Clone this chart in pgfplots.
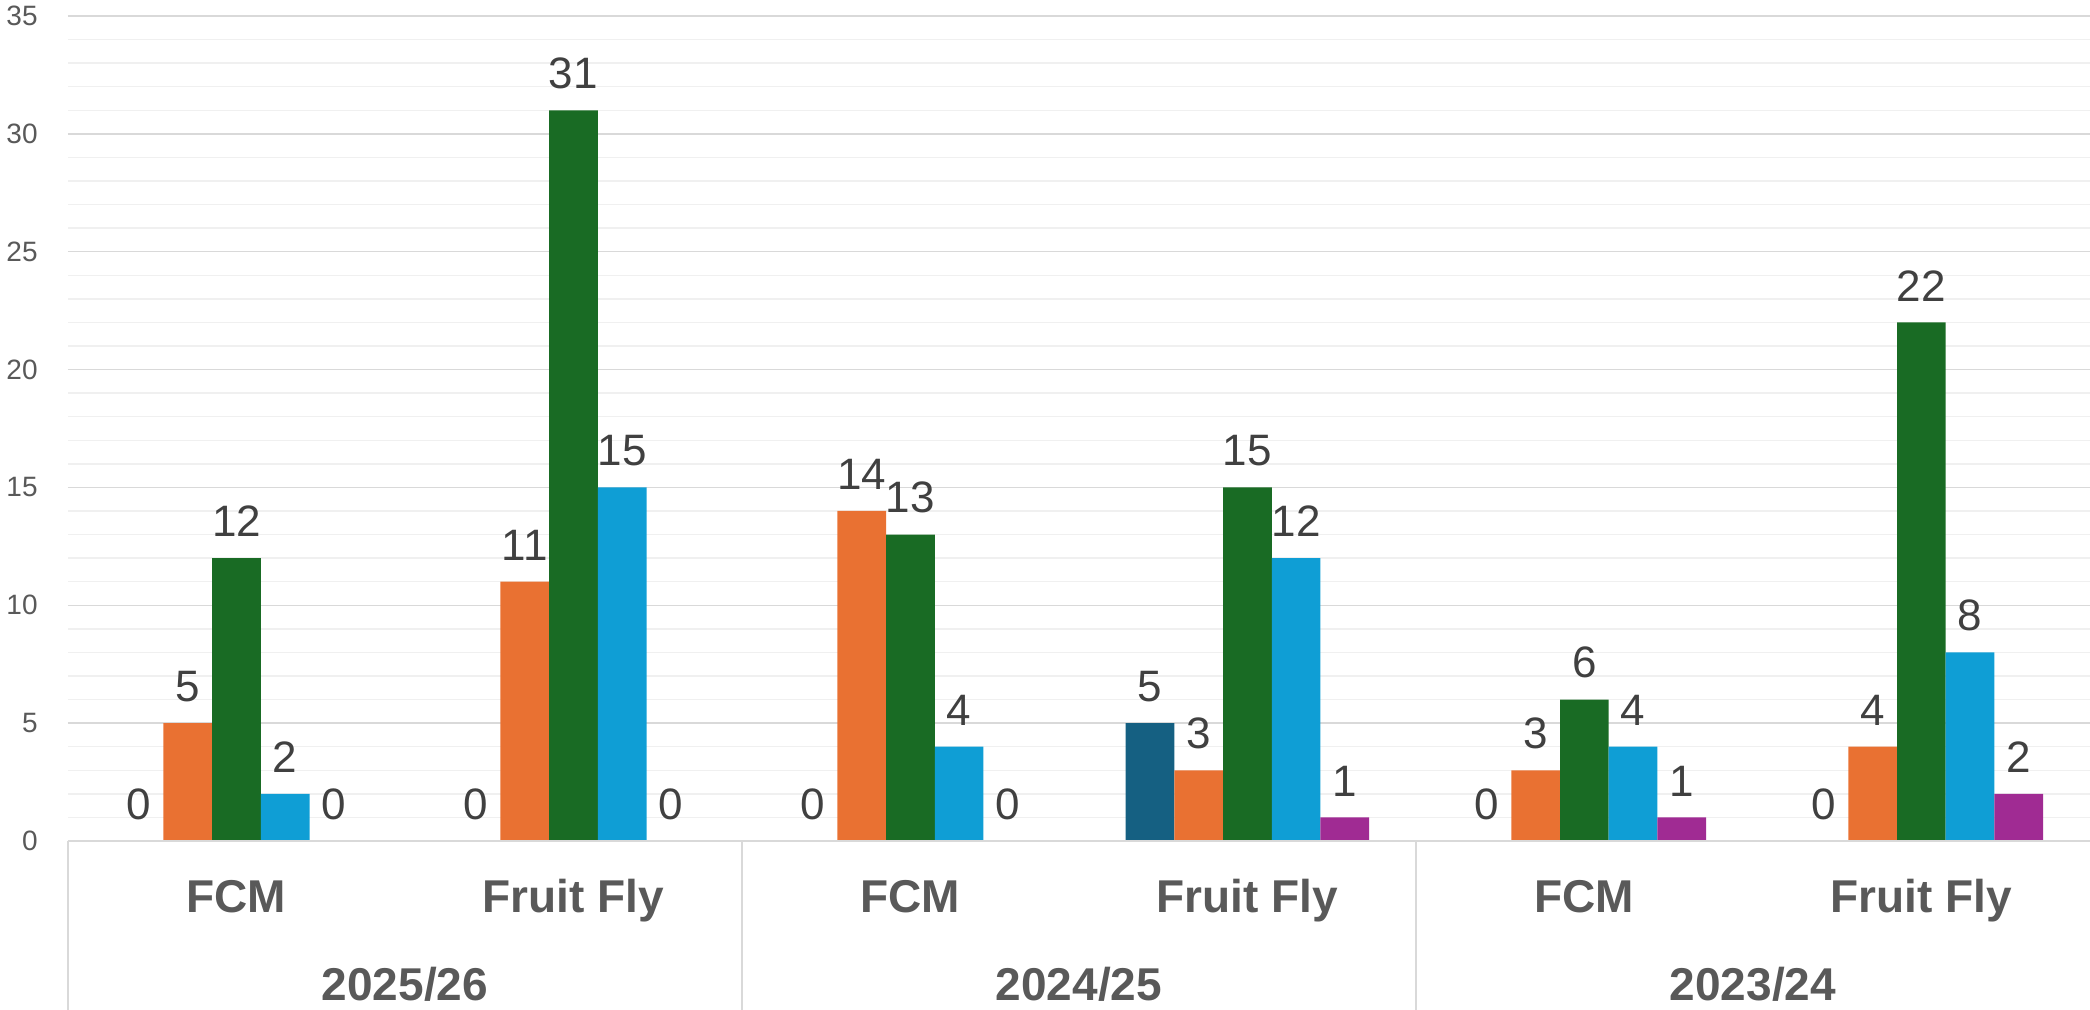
\documentclass[border=0pt]{standalone}
\usepackage{pgfplots}
\pgfplotsset{compat=1.18}
\usepackage{fontspec}
\setmainfont{Liberation Sans}
\definecolor{cDB}{HTML}{156082}
\definecolor{cOR}{HTML}{E97132}
\definecolor{cGR}{HTML}{196B24}
\definecolor{cLB}{HTML}{0F9ED5}
\definecolor{cPU}{HTML}{A02B93}
\definecolor{tickgray}{HTML}{595959}
\definecolor{labgray}{HTML}{595959}
\definecolor{datagray}{HTML}{404040}
\definecolor{majgrid}{HTML}{D9D9D9}
\definecolor{mingrid}{HTML}{F0F0F0}
\begin{document}
\begin{tikzpicture}
\begin{axis}[
  at={(0,0)}, anchor=south west,
  width=1011pt, height=412.5pt, scale only axis=true,
  xmin=-0.5, xmax=5.5, ymin=0, ymax=35,
  enlargelimits=false, clip=false,
  axis line style={draw=none},
  /pgf/number format/assume math mode=true,
  ybar, bar width=24.35pt,
  xtick={0,1,2,3,4,5},
  xticklabels={FCM,Fruit Fly,FCM,Fruit Fly,FCM,Fruit Fly},
  xticklabel style={font=\bfseries\fontsize{23}{26}\selectfont, text=labgray, anchor=base, inner sep=0pt, yshift=-35.75pt},
  ytick distance=5, minor y tick num=4,
  ymajorgrids, yminorgrids,
  major grid style={draw=majgrid, line width=0.7pt},
  minor grid style={draw=mingrid, line width=0.7pt},
  major tick length=0pt, minor tick length=0pt,
  yticklabel style={font=\fontsize{14}{16}\selectfont, text=tickgray, anchor=east, inner sep=0pt, xshift=-15pt},
  nodes near coords,
  every node near coord/.append style={font=\fontsize{22}{25}\selectfont, text=datagray, anchor=south, inner sep=0pt, yshift=10.5pt},
]
\addplot[fill=cDB, draw=none, bar shift=-48.7pt] coordinates {(0,0) (1,0) (2,0) (3,5) (4,0) (5,0)};
\addplot[fill=cOR, draw=none, bar shift=-24.35pt] coordinates {(0,5) (1,11) (2,14) (3,3) (4,3) (5,4)};
\addplot[fill=cGR, draw=none, bar shift=0pt] coordinates {(0,12) (1,31) (2,13) (3,15) (4,6) (5,22)};
\addplot[fill=cLB, draw=none, bar shift=24.35pt] coordinates {(0,2) (1,15) (2,4) (3,12) (4,4) (5,8)};
\addplot[fill=cPU, draw=none, bar shift=48.7pt] coordinates {(0,0) (1,0) (2,0) (3,1) (4,1) (5,2)};
\draw[majgrid, line width=1pt] (axis cs:-0.5,0) -- (axis cs:5.5,0);
\draw[majgrid, line width=0.75pt] (axis cs:-0.5,0) -- ++(0pt,-84.5pt);
\draw[majgrid, line width=0.75pt] (axis cs:1.5,0) -- ++(0pt,-84.5pt);
\draw[majgrid, line width=0.75pt] (axis cs:3.5,0) -- ++(0pt,-84.5pt);
\node[font=\bfseries\fontsize{23}{26}\selectfont, text=labgray, anchor=base, inner sep=0pt, yshift=-79.75pt] at (axis cs:0.5,0) {2025/26};
\node[font=\bfseries\fontsize{23}{26}\selectfont, text=labgray, anchor=base, inner sep=0pt, yshift=-79.75pt] at (axis cs:2.5,0) {2024/25};
\node[font=\bfseries\fontsize{23}{26}\selectfont, text=labgray, anchor=base, inner sep=0pt, yshift=-79.75pt] at (axis cs:4.5,0) {2023/24};
\end{axis}
\pgfresetboundingbox
\useasboundingbox (-34pt,-84.5pt) rectangle (1011pt,420.5pt);
\end{tikzpicture}
\end{document}
